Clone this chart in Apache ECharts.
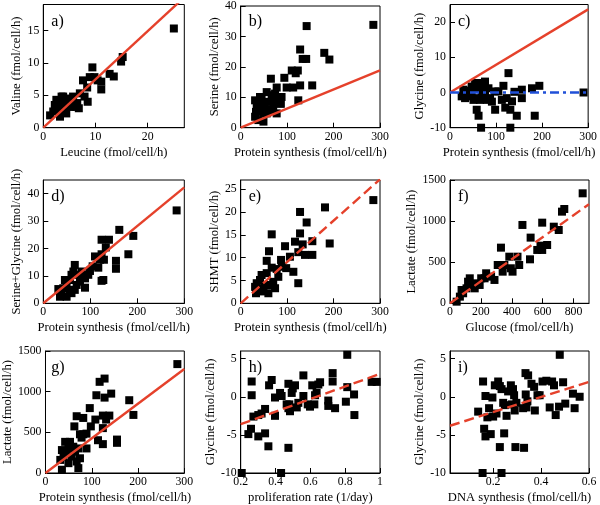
<!DOCTYPE html>
<html><head><meta charset="utf-8">
<script src="https://cdn.jsdelivr.net/npm/echarts@6/dist/echarts.min.js"></script>
<style>html,body{margin:0;padding:0;background:#fff}#c{width:600px;height:505px}</style>
</head><body><div id="c"></div><script>
// ---- data ----
const leucine = [25.0,15.2,14.9,12.7,13.5,11.1,11.1,9.4,8.9,9.8,10.4,7.6,8.4,8.5,7.9,7.0,6.8,5.7,6.0,5.1,4.4,3.8,3.5,2.8,2.5,1.9,1.3,3.2,4.4,4.7,4.1,5.4,6.3,5.7,3.5,2.2,3.0,4.0,5.0,6.5];
const valine  = [15.3,10.9,10.2,8.3,7.9,7.1,5.9,9.3,7.8,7.8,7.3,7.3,6.2,4.0,4.8,5.3,3.0,4.3,3.5,3.2,4.5,4.8,3.7,3.2,4.3,2.5,1.9,1.7,2.2,3.7,2.7,3.7,3.2,4.8,4.8,3.5,2.8,4.0,4.3,3.8];

const bProt   = [285.7,142,180,191,128,133.5,141,154,124,128,123,118.5,110,113,99,94,65,77.5,86,88,56,67,74,45,31,34.5,33,31,38,49,45,52,59.6,63,70,74,81,86,56,77.5,49,41.6,67,60,40];
const serine  = [33.8,33.4,24.6,22.4,25.7,22.6,22.6,13.9,9.0,13.9,18.8,17.9,18.8,13.2,13.2,16.4,16.1,13.2,7.9,10.1,11.7,10.7,11.2,9.9,9.0,6.8,5.2,3.6,2.5,2.0,7.9,6.8,8.5,5.8,6.8,9.0,9.0,7.9,4.7,4.7,4.7,10.1,9.0,6.0,7.0];

const cProt   = [290,127,194,178,156,116,184,145,131,67.5,62,58,98,120,131,134.6,112.6,123,156,76,65,54.5,47,29,36,43.6,51,62,69,76,87,91,65,80,58,83.5,98,105,32.7,25.4,47,72.6,140,40];
const glycine = [0,5.5,1.9,1.2,0.8,1.9,-6.6,-6.6,-10,-10,-6.6,-4.9,-4.9,-4.3,-4.9,-2.5,-2.1,-1.6,-1.6,3.1,2.7,2.7,1.7,0.8,-0.7,-1.1,-2.1,-1.6,-0.2,-0.7,-1.6,-2.6,-2.1,-2.1,1.2,1.2,0.3,0.3,-1.6,-1.1,-0.2,1.7,0.2,0.5];

const dProt   = [283.7,191.5,181,161.7,124,139.7,133,124,110,120.6,129,117,154.6,154.6,127.7,124,99.3,95.7,88.7,88.7,81.6,74.5,67,64,60,71,67,60,49.6,46,42.5,39,35.5,32,49.6,56.7,78,56.7,105];
const serGly  = [33.9,24.6,17.9,26.8,23.2,23.2,20.4,17.9,17.1,15.9,15.9,13.0,15.5,12.6,8.5,8.2,11.8,10.4,9.1,5.7,11.6,10.4,14,11.6,10.4,6.7,4.9,3.7,7.3,8.5,5.5,3.7,2.4,5.2,2.4,4.9,7.9,8.5,13.5];

const eProt   = [285.7,181.6,191.7,127.8,142,127.8,154.3,133.5,117,138.5,154.3,124,124,113.4,106,95.5,66.8,61,56,66.8,77.5,86.9,88.3,98,81,74,56,45,41.6,34.5,31,33,49,59.6,63,52,70,38];
const shmt    = [22.6,21.0,13.1,20.0,17.7,15.3,13.6,12.9,13.5,10.6,10.6,11.2,4.4,6.9,10.2,12.5,15.1,11.4,9.3,7.8,7.5,9.5,8.0,7.7,5.8,3.3,6.6,6.2,5.1,4.4,3.6,2.2,2.6,2.2,4.0,4.0,4.7,3.3];

const glucose = [859,740,725,704,672,597,469,522,629,586,565,597,518,330,437,384,448,394,352,309,405,341,234,266,224,128,171,192,160,107,85,64,43,139,288,202,75,117];
const fLact   = [1338,1147,1115,892,932,981,953,799,709,701,649,649,535,677,567,567,466,426,466,466,385,385,365,324,304,304,243,223,182,182,122,81,20,223,284,304,162,263];

const gProt   = [285,127.7,117,142,110,127.7,181,190,95.7,107.8,67.4,81.6,124,138,131,98,62.4,124,154.6,154.6,124,113.5,74.5,81.6,88.6,78,88.6,71,53,42.5,35.5,39,32,35.5,71,49.6,56.7,64,49.6,60,67.4,74.5,46];
const gLact   = [1339,1161,1121,976,956,927,895,714,798,657,698,677,706,706,657,573,573,552,411,371,355,403,476,476,484,435,302,302,383,383,282,202,161,40,60,121,202,262,302,323,141,181,242];

const prolif  = [0.812,0.206,0.432,0.981,0.952,0.851,0.853,0.812,0.804,0.728,0.728,0.742,0.703,0.703,0.656,0.646,0.636,0.627,0.611,0.623,0.598,0.585,0.56,0.56,0.531,0.522,0.512,0.493,0.499,0.483,0.474,0.474,0.479,0.464,0.474,0.426,0.435,0.397,0.397,0.378,0.363,0.359,0.34,0.34,0.32,0.301,0.301,0.273,0.263,0.263,0.259,0.244];
const hGly    = [5.5,-10,-10,1.95,1.95,0.3,-2.4,1.26,-0.65,3.1,2.0,-1.5,-1.2,-0.5,1.9,1.6,0.5,0.2,1.5,-1.0,-1.3,-1.0,2.8,0.1,-0.8,-1.4,1.5,0.5,1.1,-1.9,1.7,-1.5,-1.0,-1.0,-6.7,0.5,0.1,-0.1,-2.5,2.2,1.5,-6.5,-1.6,-4.8,-2.2,-2.4,-5.2,-2.6,0.2,2.0,-4.2,-4.9];

const dnaSyn  = [0.478,0.156,0.235,0.1375,0.158,0.168,0.176,0.183,0.197,0.2,0.1625,0.168,0.19,0.207,0.221,0.228,0.235,0.214,0.228,0.242,0.246,0.256,0.249,0.2625,0.274,0.279,0.2875,0.293,0.29,0.297,0.283,0.325,0.329,0.335,0.346,0.336,0.343,0.339,0.36,0.371,0.374,0.385,0.394,0.406,0.422,0.436,0.446,0.454,0.461,0.475,0.492,0.501,0.533,0.54,0.561];
const iGly    = [5.5,-10,-10,-1.95,2.0,0.1,-2.7,-1.5,-0.1,-2.6,-4.2,-5.2,-4.9,1.5,2.0,1.4,1.0,-2.2,-6.6,-0.8,-4.8,-2.5,-1.1,0.7,1.5,-1.0,0.2,-6.6,-1.8,-0.8,1.0,-1.5,-6.7,3.1,2.8,0.3,-0.6,-1.4,1.7,1.3,-1.8,0.2,0.2,2.0,2.1,-1.4,2.0,1.5,-2.4,-1.3,1.9,-0.9,0.4,-1.5,0.0];

// fitted lines y = slope*x + intercept (panels a..i)
const fitSlope     = [0.745, 0.0627, 0.0787, 0.141, 0.0905, 1.34, 4.26, 8.25, 9.9];
const fitIntercept = [0, 0, 0, 0, 0, 0, 0, -5.25, -4.0];
const fitDashed    = [false, false, false, false, true, true, false, true, true];
// panel c reference line (zero line)
const refSlope = 0, refIntercept = 0;

// tick labels
const tLeu = [0,10,20], tVal = [0,5,10,15];
const tProt = [0,100,200,300];
const tSer = [0,10,20,30,40];
const tGlyC = [-10,0,10,20];
const tSerGly = [0,10,20,30,40];
const tShmt = [0,5,10,15,20,25];
const tGlc = [0,200,400,600,800];
const tLact = [0,500,1000,1500];
const tProl = [0.2,0.4,0.6,0.8,1];
const tGly = [-10,-5,0,5];
const tDna = [0.2,0.4,0.6];

const panelLabels = ['a)','b)','c)','d)','e)','f)','g)','h)','i)'];

// ---- layout ----
const FONT = 'Liberation Serif';
const RED = '#e5412b', BLUE = '#2050d8';
const colL = [43.3, 240.7, 450], colW = [141, 139.3, 139];
const rowT = [4.5, 180, 351], rowH = [123.2, 123.3, 124];

const panels = [
 {x:leucine, y:valine, xr:[0,27], yr:[0,19], xt:tLeu, yt:tVal, xn:'Leucine (fmol/cell/h)', yn:'Valine (fmol/cell/h)'},
 {x:bProt, y:serine, xr:[0,300], yr:[0,40], xt:tProt, yt:tSer, xn:'Protein synthesis (fmol/cell/h)', yn:'Serine (fmol/cell/h)'},
 {x:cProt, y:glycine, xr:[0,300], yr:[-10,25], xt:tProt, yt:tGlyC, xn:'Protein synthesis (fmol/cell/h)', yn:'Glycine (fmol/cell/h)', ref:true},
 {x:dProt, y:serGly, xr:[0,300], yr:[0,45], xt:tProt, yt:tSerGly, xn:'Protein synthesis (fmol/cell/h)', yn:'Serine+Glycine (fmol/cell/h)'},
 {x:eProt, y:shmt, xr:[0,300], yr:[0,27], xt:tProt, yt:tShmt, xn:'Protein synthesis (fmol/cell/h)', yn:'SHMT (fmol/cell/h)'},
 {x:glucose, y:fLact, xr:[0,900], yr:[0,1500], xt:tGlc, yt:tLact, xn:'Glucose (fmol/cell/h)', yn:'Lactate (fmol/cell/h)'},
 {x:gProt, y:gLact, xr:[0,300], yr:[0,1500], xt:tProt, yt:tLact, xn:'Protein synthesis (fmol/cell/h)', yn:'Lactate (fmol/cell/h)'},
 {x:prolif, y:hGly, xr:[0.2,1], yr:[-10,6], xt:tProl, yt:tGly, xn:'proliferation rate (1/day)', yn:'Glycine (fmol/cell/h)'},
 {x:dnaSyn, y:iGly, xr:[0.02,0.6], yr:[-10,6], xt:tDna, yt:tGly, xn:'DNA synthesis (fmol/cell/h)', yn:'Glycine (fmol/cell/h)'}
];

const grid = [], xAxis = [], yAxis = [], series = [], graphic = [];
const fmt = v => String(v);
panels.forEach((p, i) => {
  const r = Math.floor(i/3), c = i%3;
  grid.push({left:colL[c], top:rowT[r], width:colW[c], height:rowH[r], show:true, borderColor:'#000', borderWidth:1, backgroundColor:'transparent'});
  xAxis.push({type:'value', gridIndex:i, min:p.xr[0], max:p.xr[1],
    axisLine:{show:true, onZero:false, lineStyle:{color:'#000', width:1}},
    axisTick:{show:true, inside:true, length:5, customValues:p.xt, lineStyle:{color:'#000'}},
    axisLabel:{customValues:p.xt, margin:3, formatter:fmt, color:'#000', fontFamily:FONT, fontSize:11.8},
    splitLine:{show:false},
    name:p.xn, nameLocation:'middle', nameGap:18, nameTextStyle:{color:'#000', fontFamily:FONT, fontSize:12.6}});
  yAxis.push({type:'value', gridIndex:i, min:p.yr[0], max:p.yr[1],
    axisLine:{show:true, onZero:false, lineStyle:{color:'#000', width:1}},
    axisTick:{show:true, inside:true, length:5, customValues:p.yt, lineStyle:{color:'#000'}},
    axisLabel:{customValues:p.yt, margin:4, formatter:fmt, color:'#000', fontFamily:FONT, fontSize:11.8},
    splitLine:{show:false},
    name:p.yn, nameLocation:'middle', nameGap:(p.yt.some(v=>Math.abs(v)>=1000)?31:(p.yt.some(v=>v<=-10)?23:20)), nameTextStyle:{color:'#000', fontFamily:FONT, fontSize:12.6}});
  series.push({type:'scatter', xAxisIndex:i, yAxisIndex:i, symbol:'rect', symbolSize:8,
    itemStyle:{color:'#000', opacity:1}, data:p.x.map((v,k)=>[v,p.y[k]]), z:2, silent:true});
  const x0 = p.xr[0], x1 = p.xr[1];
  series.push({type:'line', xAxisIndex:i, yAxisIndex:i, symbol:'none', clip:true, silent:true, z:3,
    lineStyle:{color:RED, width:2.4, type:fitDashed[i]?[10,5]:'solid'},
    data:[[x0, fitSlope[i]*x0+fitIntercept[i]],[x1, fitSlope[i]*x1+fitIntercept[i]]]});
  if (p.ref) {
    series.push({type:'line', xAxisIndex:i, yAxisIndex:i, symbol:'none', clip:true, silent:true, z:3,
      lineStyle:{color:BLUE, width:2.4, type:[9,4,3,4]},
      data:[[x0, refSlope*x0+refIntercept],[x1, refSlope*x1+refIntercept]]});
  }
  graphic.push({type:'text', left:colL[c]+8, top:rowT[r]+9,
    style:{text:panelLabels[i], fill:'#000', font:'16px "Liberation Serif"'}});
});

const chart = echarts.init(document.getElementById('c'), null, {renderer:'canvas'});
chart.setOption({animation:false, grid, xAxis, yAxis, series, graphic});
</script></body></html>
